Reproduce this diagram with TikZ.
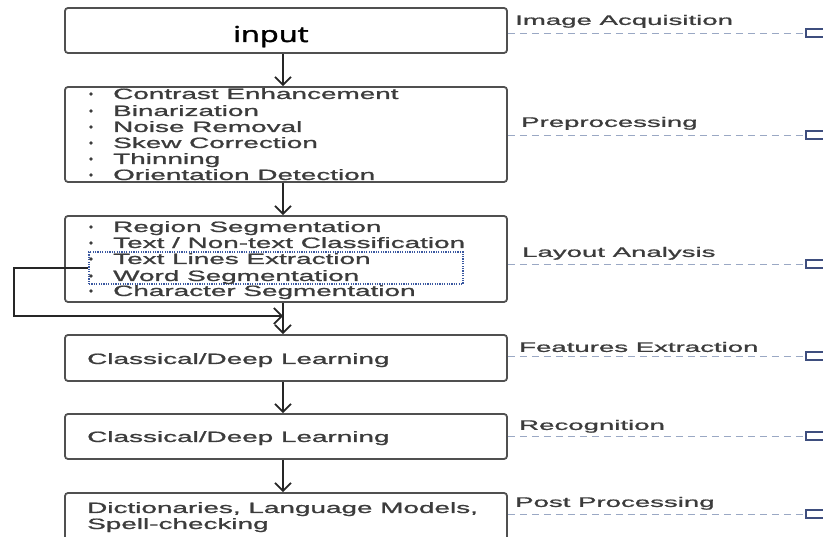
\documentclass[tikz,border=0pt]{standalone}
\usepackage{fontspec}
\setmainfont{Liberation Sans}[FakeBold=0.9]
\newfontfamily\handfont{Open Sans}[FakeBold=1.6]
\usetikzlibrary{arrows.meta}
\definecolor{boxgray}{HTML}{505050}
\definecolor{txtgray}{HTML}{3C3C3C}
\definecolor{guideblue}{HTML}{9AA8C4}
\definecolor{tabblue}{HTML}{3E4E7E}
\definecolor{dotblue}{HTML}{3A58A0}
\newcommand{\lw}[1]{\scalebox{1.86}[1]{#1}}
\newcommand{\rw}[1]{\scalebox{2.0}[1]{#1}}
\begin{document}
\begin{tikzpicture}[x=1pt,y=-1pt,
  box/.style={draw=boxgray, line width=1.8pt, rounded corners=3pt, minimum width=442pt, inner sep=0pt},
  lt/.style={font=\fontsize{15}{16}\selectfont, text=txtgray, inner sep=0pt, anchor=base west},
  rl/.style={font=\fontsize{13.8}{15}\selectfont, text=txtgray, inner sep=0pt, anchor=base west},
  bul/.style={circle, fill=txtgray, minimum size=3.6pt, inner sep=0pt},
  arr/.style={draw=black!85, line width=2pt, -{Straight Barb[length=8pt,width=16pt,line width=1.7pt]}},
  guide/.style={draw=guideblue, line width=0.9pt, dash pattern=on 7pt off 5pt},
  tabbox/.style={draw=tabblue, fill=white, line width=1.5pt, minimum width=20pt, minimum height=8pt, inner sep=0pt},
  dbox/.style={draw=dotblue, line width=1.2pt, dash pattern=on 1.2pt off 1.2pt, inner sep=0pt, minimum width=374pt, minimum height=32pt}]
\useasboundingbox (0,0) rectangle (823,537);
\clip (0,0) rectangle (823,537);

% boxes
\node[box, minimum height=45pt] (b1) at (286,30.5) {};
\node[box, minimum height=95pt] (b2) at (286,134.5) {};
\node[box, minimum height=86pt] (b3) at (286,259) {};
\node[box, minimum height=46pt] (b4) at (286,358) {};
\node[box, minimum height=45pt] (b5) at (286,436.5) {};
\node[box, minimum height=52pt] (b6) at (286,519) {};

% input
\node[font=\handfont\fontsize{22}{24}\selectfont, text=black, inner sep=0pt, anchor=base west] (inp) at (233,42) {\scalebox{1.4}[1]{input}};

% box 2 list
\foreach \y/\t [count=\i] in {99/{Contrast Enhancement},116/{Binarization},132/{Noise Removal},148/{Skew Correction},164/{Thinning},180/{Orientation Detection}}{
  \node[bul] (pb\i) at (91,\y-5) {};
  \node[lt] (pt\i) at (113,\y) {\lw{\t}};
}
% box 3 list
\node[dbox] (db) at (276,268) {};
\foreach \y/\t [count=\i] in {232/{Region Segmentation},248/{Text / Non-text Classification},264/{Text Lines Extraction},281/{Word Segmentation},296/{Character Segmentation}}{
  \node[bul] (lb\i) at (91,\y-5) {};
  \node[lt] (lt\i) at (113,\y) {\lw{\t}};
}
% boxes 4-6 text
\node[lt] (c4) at (87,364) {\lw{Classical/Deep Learning}};
\node[lt] (c5) at (87,442) {\lw{Classical/Deep Learning}};
\node[lt] (c6a) at (87,513) {\lw{Dictionaries, Language Models,}};
\node[lt] (c6b) at (87,529) {\lw{Spell-checking}};

% main arrows
\coordinate (ax) at (283,0);
\draw[arr] (b1.south -| ax) -- (b2.north -| ax);
\draw[arr] (b2.south -| ax) -- (b3.north -| ax);
\draw[arr] (b3.south -| ax) -- (b4.north -| ax);
\draw[arr] (b4.south -| ax) -- (b5.north -| ax);
\draw[arr] (b5.south -| ax) -- (b6.north -| ax);

% feedback
\coordinate (fbl) at (14,268);
\coordinate (fbe) at (283,316);
\draw[arr] (db.west) -- (fbl) |- (fbe);

% right labels
\node[rl] (r1) at (515,24.9) {\rw{Image Acquisition}};
\node[rl] (r2) at (521,126.9) {\rw{Preprocessing}};
\node[rl] (r3) at (522,256.9) {\rw{Layout Analysis}};
\node[rl] (r4) at (519,351.9) {\rw{Features Extraction}};
\node[rl] (r5) at (519,429.9) {\rw{Recognition}};
\node[rl] (r6) at (515,506.9) {\rw{Post Processing}};

% tabs and guides
\foreach \y/\b [count=\i] in {33/b1,135/b2,264/b3,356/b4,436/b5,514/b6}{
  \node[tabbox] (t\i) at (816,\y) {};
  \draw[guide] (\b.east |- t\i) -- (t\i.west);
}
\end{tikzpicture}
\end{document}
